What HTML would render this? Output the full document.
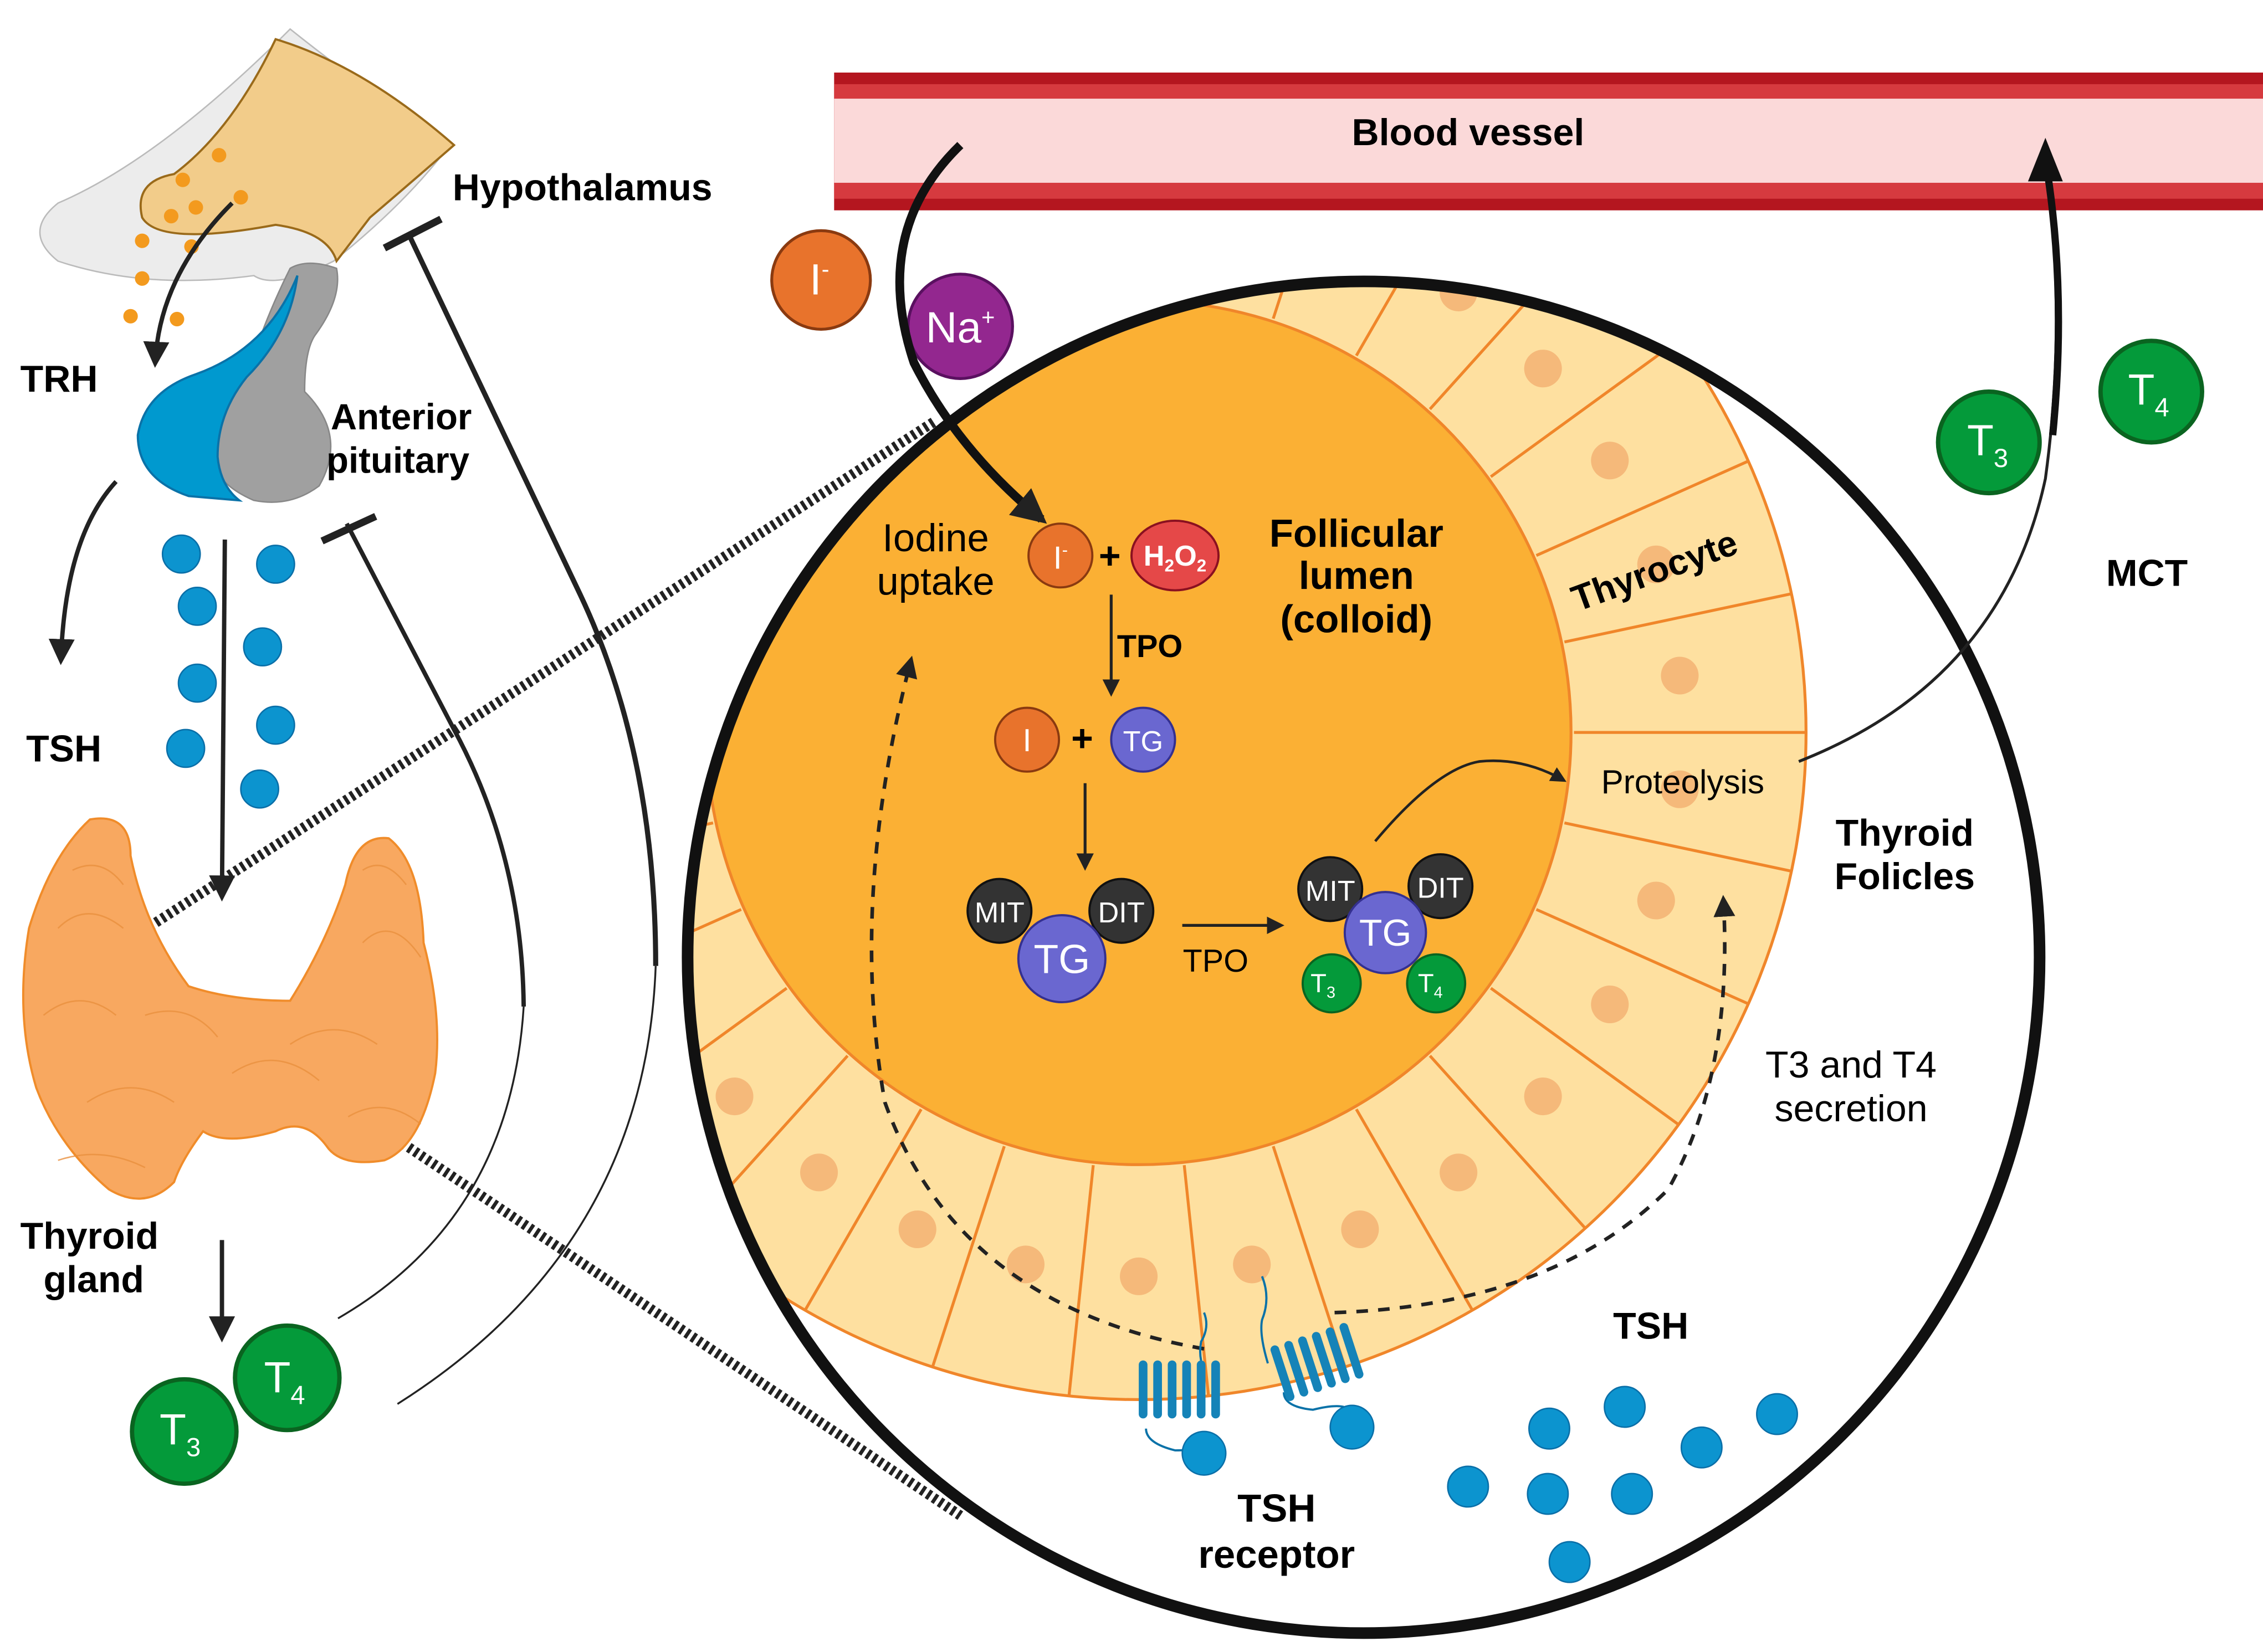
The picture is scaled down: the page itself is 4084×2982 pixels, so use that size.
<!DOCTYPE html>
<html><head><meta charset="utf-8"><style>
html,body{margin:0;padding:0;background:#fff;}
svg{display:block;}
text{font-family:"Liberation Sans",Arial,sans-serif;}
.b{font-weight:bold;}
</style></head><body>
<svg width="4084" height="2982" viewBox="0 0 1560 1139" xmlns="http://www.w3.org/2000/svg">
<defs>
<clipPath id="cc"><circle cx="940" cy="660" r="466"/></clipPath>
<marker id="ah" viewBox="0 0 10 10" refX="8" refY="5" markerWidth="6" markerHeight="6" orient="auto"><path d="M0,0 L10,5 L0,10 z" fill="#222"/></marker>
<marker id="ah2" viewBox="0 0 10 10" refX="8" refY="5" markerWidth="4" markerHeight="4" orient="auto"><path d="M0,0 L10,5 L0,10 z" fill="#222"/></marker>
</defs>

<!-- Blood vessel -->
<rect x="575" y="50" width="985" height="95" fill="#b4161f"/>
<rect x="575" y="58" width="985" height="79" fill="#d63a3f"/>
<rect x="575" y="68" width="985" height="58" fill="#fbd9d9"/>
<text x="1012" y="100" font-size="26" class="b" text-anchor="middle">Blood vessel</text>

<!-- Big circle contents -->
<circle cx="940" cy="660" r="466" fill="#fff"/>
<g clip-path="url(#cc)">
  <circle cx="785" cy="505" r="460" fill="#fee0a0" stroke="#f0862a" stroke-width="2"/>
  <g stroke="#f0862a" stroke-width="2" fill="#f5b97a">
    <g transform="rotate(0 785 505)"><line x1="1085" y1="505" x2="1245" y2="505"/></g>
    <g transform="rotate(12 785 505)"><line x1="1085" y1="505" x2="1245" y2="505"/></g>
    <g transform="rotate(24 785 505)"><line x1="1085" y1="505" x2="1245" y2="505"/></g>
    <g transform="rotate(36 785 505)"><line x1="1085" y1="505" x2="1245" y2="505"/></g>
    <g transform="rotate(48 785 505)"><line x1="1085" y1="505" x2="1245" y2="505"/></g>
    <g transform="rotate(60 785 505)"><line x1="1085" y1="505" x2="1245" y2="505"/></g>
    <g transform="rotate(72 785 505)"><line x1="1085" y1="505" x2="1245" y2="505"/></g>
    <g transform="rotate(84 785 505)"><line x1="1085" y1="505" x2="1245" y2="505"/></g>
    <g transform="rotate(96 785 505)"><line x1="1085" y1="505" x2="1245" y2="505"/></g>
    <g transform="rotate(108 785 505)"><line x1="1085" y1="505" x2="1245" y2="505"/></g>
    <g transform="rotate(120 785 505)"><line x1="1085" y1="505" x2="1245" y2="505"/></g>
    <g transform="rotate(132 785 505)"><line x1="1085" y1="505" x2="1245" y2="505"/></g>
    <g transform="rotate(144 785 505)"><line x1="1085" y1="505" x2="1245" y2="505"/></g>
    <g transform="rotate(156 785 505)"><line x1="1085" y1="505" x2="1245" y2="505"/></g>
    <g transform="rotate(168 785 505)"><line x1="1085" y1="505" x2="1245" y2="505"/></g>
    <g transform="rotate(180 785 505)"><line x1="1085" y1="505" x2="1245" y2="505"/></g>
    <g transform="rotate(-12 785 505)"><line x1="1085" y1="505" x2="1245" y2="505"/></g>
    <g transform="rotate(-24 785 505)"><line x1="1085" y1="505" x2="1245" y2="505"/></g>
    <g transform="rotate(-36 785 505)"><line x1="1085" y1="505" x2="1245" y2="505"/></g>
    <g transform="rotate(-48 785 505)"><line x1="1085" y1="505" x2="1245" y2="505"/></g>
    <g transform="rotate(-60 785 505)"><line x1="1085" y1="505" x2="1245" y2="505"/></g>
    <g transform="rotate(-72 785 505)"><line x1="1085" y1="505" x2="1245" y2="505"/></g>
    <g transform="rotate(-84 785 505)"><line x1="1085" y1="505" x2="1245" y2="505"/></g>
  </g>
  <g fill="#f5b97a">
    <g transform="rotate(6 785 505)"><circle cx="1160" cy="505" r="13"/></g>
    <g transform="rotate(18 785 505)"><circle cx="1160" cy="505" r="13"/></g>
    <g transform="rotate(30 785 505)"><circle cx="1160" cy="505" r="13"/></g>
    <g transform="rotate(42 785 505)"><circle cx="1160" cy="505" r="13"/></g>
    <g transform="rotate(54 785 505)"><circle cx="1160" cy="505" r="13"/></g>
    <g transform="rotate(66 785 505)"><circle cx="1160" cy="505" r="13"/></g>
    <g transform="rotate(78 785 505)"><circle cx="1160" cy="505" r="13"/></g>
    <g transform="rotate(90 785 505)"><circle cx="1160" cy="505" r="13"/></g>
    <g transform="rotate(102 785 505)"><circle cx="1160" cy="505" r="13"/></g>
    <g transform="rotate(114 785 505)"><circle cx="1160" cy="505" r="13"/></g>
    <g transform="rotate(126 785 505)"><circle cx="1160" cy="505" r="13"/></g>
    <g transform="rotate(138 785 505)"><circle cx="1160" cy="505" r="13"/></g>
    <g transform="rotate(150 785 505)"><circle cx="1160" cy="505" r="13"/></g>
    <g transform="rotate(162 785 505)"><circle cx="1160" cy="505" r="13"/></g>
    <g transform="rotate(174 785 505)"><circle cx="1160" cy="505" r="13"/></g>
    <g transform="rotate(-6 785 505)"><circle cx="1160" cy="505" r="13"/></g>
    <g transform="rotate(-18 785 505)"><circle cx="1160" cy="505" r="13"/></g>
    <g transform="rotate(-30 785 505)"><circle cx="1160" cy="505" r="13"/></g>
    <g transform="rotate(-42 785 505)"><circle cx="1160" cy="505" r="13"/></g>
    <g transform="rotate(-54 785 505)"><circle cx="1160" cy="505" r="13"/></g>
    <g transform="rotate(-66 785 505)"><circle cx="1160" cy="505" r="13"/></g>
    <g transform="rotate(-78 785 505)"><circle cx="1160" cy="505" r="13"/></g>
  </g>
  <circle cx="785" cy="505" r="298" fill="#fbb034" stroke="#f0862a" stroke-width="2"/>
</g>
<circle cx="940" cy="660" r="466" fill="none" stroke="#111" stroke-width="8"/>

<!-- inhibition curves -->
<path d="M282,162 L400,410 Q452,520 452,666" stroke="#222" stroke-width="3.5" fill="none"/>
<path d="M452,666 Q445,860 274,968" stroke="#222" stroke-width="1.3" fill="none"/>
<line x1="265" y1="171" x2="304" y2="151" stroke="#222" stroke-width="5"/>
<path d="M239,361 L313,503 Q360,590 361,694" stroke="#222" stroke-width="3" fill="none"/>
<path d="M361,694 Q352,840 233,909" stroke="#222" stroke-width="1.3" fill="none"/>
<line x1="222" y1="373" x2="259" y2="356" stroke="#222" stroke-width="5"/>

<!-- hatched connectors -->
<g stroke="#222" stroke-width="7" stroke-dasharray="2.5 2.5" fill="none">
  <line x1="78" y1="655" x2="645" y2="290"/>
  <line x1="78" y1="655" x2="662" y2="1045"/>
</g>

<!-- Left side: hypothalamus -->
<path d="M200,20 Q250,60 310,100 Q280,140 230,180 Q190,200 175,190 Q100,200 40,180 Q15,160 40,140 Q110,110 200,20 Z" fill="#ececec" stroke="#bbb" stroke-width="1"/>
<path d="M190,27 Q250,45 313,100 Q290,120 255,150 L232,180 Q226,160 190,155 Q110,170 98,150 Q92,125 120,120 Q160,90 190,27 Z" fill="#f2cc8a" stroke="#9a6a1a" stroke-width="1.5"/>
<g fill="#f39a1e">
<circle cx="126" cy="124" r="5"/><circle cx="151" cy="107" r="5"/><circle cx="166" cy="136" r="5"/><circle cx="135" cy="143" r="5"/><circle cx="118" cy="149" r="5"/><circle cx="98" cy="166" r="5"/><circle cx="132" cy="170" r="5"/><circle cx="98" cy="192" r="5"/><circle cx="90" cy="218" r="5"/><circle cx="122" cy="220" r="5"/>
</g>
<!-- pituitary -->
<path d="M200,185 Q212,178 232,185 Q236,205 218,230 Q210,240 210,270 Q240,300 220,335 Q200,350 175,345 Q140,330 145,300 Q160,270 175,245 Q185,215 200,185 Z" fill="#a0a0a0" stroke="#888" stroke-width="1"/>
<path d="M205,190 Q200,230 170,260 Q150,285 150,315 Q152,335 165,345 L130,342 Q95,330 95,300 Q100,270 135,258 Q185,240 205,190 Z" fill="#0099cf" stroke="#0a72a8" stroke-width="1.5"/>
<path d="M160,140 Q110,190 107,250" stroke="#222" stroke-width="3" fill="none" marker-end="url(#ah)"/>
<text x="14" y="270" font-size="26" class="b">TRH</text>
<text x="312" y="138" font-size="26" class="b">Hypothalamus</text>
<text x="228" y="296" font-size="25" class="b">Anterior</text>
<text x="225" y="326" font-size="25" class="b">pituitary</text>
<path d="M80,332 Q45,370 42,455" stroke="#222" stroke-width="3" fill="none" marker-end="url(#ah)"/>
<text x="18" y="525" font-size="26" class="b">TSH</text>
<g fill="#0c94cf" stroke="#0a6fa8" stroke-width="1">
<circle cx="125" cy="382" r="13"/><circle cx="190" cy="389" r="13"/><circle cx="136" cy="418" r="13"/><circle cx="181" cy="446" r="13"/><circle cx="136" cy="471" r="13"/><circle cx="190" cy="500" r="13"/><circle cx="128" cy="516" r="13"/><circle cx="179" cy="544" r="13"/>
</g>
<line x1="155" y1="372" x2="153" y2="618" stroke="#222" stroke-width="3" marker-end="url(#ah)"/>
<!-- thyroid gland -->
<path d="M62,565 Q90,560 90,590 Q100,640 130,680 Q160,690 200,690 Q225,650 238,610 Q245,575 268,578 Q290,595 292,650 Q305,700 300,740 Q290,790 265,800 Q235,805 225,790 Q210,770 190,780 Q155,790 140,780 Q125,800 120,815 Q100,835 75,820 Q40,790 25,750 Q10,700 20,640 Q35,590 62,565 Z" fill="#f8a860" stroke="#f08c2a" stroke-width="1.5"/>
<g stroke="#e8903e" stroke-width="1" fill="none" opacity="0.8">
<path d="M40,640 Q60,620 85,640 M30,700 Q55,680 80,700 M100,700 Q130,690 150,715 M60,760 Q90,740 120,760 M200,720 Q230,700 260,720 M250,650 Q270,630 290,660 M160,740 Q190,720 220,745 M240,770 Q265,755 290,775 M50,600 Q70,590 85,610 M250,600 Q265,590 280,610 M40,800 Q70,790 100,805"/>
</g>
<text x="14" y="861" font-size="26" class="b">Thyroid</text>
<text x="30" y="891" font-size="26" class="b">gland</text>
<line x1="153" y1="855" x2="153" y2="922" stroke="#222" stroke-width="3" marker-end="url(#ah)"/>
<g stroke="#0a6420" stroke-width="3" fill="#049a3a">
<circle cx="198" cy="950" r="36"/><circle cx="127" cy="987" r="36"/>
</g>
<text x="182" y="960" font-size="30" fill="#fff">T<tspan font-size="18" dy="8">4</tspan></text>
<text x="110" y="996" font-size="30" fill="#fff">T<tspan font-size="18" dy="8">3</tspan></text>

<!-- Ions -->
<circle cx="566" cy="193" r="34" fill="#e8732c" stroke="#8a3a10" stroke-width="2"/>
<text x="558" y="203" font-size="30" fill="#fff">I<tspan font-size="16" dy="-12">-</tspan></text>
<circle cx="662" cy="225" r="36" fill="#93278f" stroke="#5a1060" stroke-width="2"/>
<text x="662" y="236" font-size="30" fill="#fff" text-anchor="middle">Na<tspan font-size="16" dy="-12">+</tspan></text>
<path d="M662,100 Q600,160 630,250 Q660,310 718,358" stroke="#111" stroke-width="6" fill="none" marker-end="url(#ah2)"/>

<!-- inside lumen -->
<text x="645" y="380" font-size="27" text-anchor="middle">Iodine</text>
<text x="645" y="410" font-size="27" text-anchor="middle">uptake</text>
<circle cx="731" cy="383" r="22" fill="#e8732c" stroke="#8a3a10" stroke-width="1.5"/>
<text x="726" y="392" font-size="22" fill="#fff">I<tspan font-size="12" dy="-9">-</tspan></text>
<text x="765" y="392" font-size="26" class="b" text-anchor="middle">+</text>
<ellipse cx="810" cy="383" rx="30" ry="24" fill="#e54848" stroke="#8a1020" stroke-width="1.5"/>
<text x="810" y="390" font-size="20" class="b" fill="#fff" text-anchor="middle">H<tspan font-size="12" dy="4">2</tspan><tspan dy="-4">O</tspan><tspan font-size="12" dy="4">2</tspan></text>
<line x1="766" y1="410" x2="766" y2="478" stroke="#222" stroke-width="2" marker-end="url(#ah)"/>
<text x="770" y="453" font-size="22" class="b">TPO</text>
<text x="935" y="377" font-size="27" class="b" text-anchor="middle">Follicular</text>
<text x="935" y="406" font-size="27" class="b" text-anchor="middle">lumen</text>
<text x="935" y="436" font-size="27" class="b" text-anchor="middle">(colloid)</text>
<circle cx="708" cy="510" r="22" fill="#e8732c" stroke="#8a3a10" stroke-width="1.5"/>
<text x="708" y="518" font-size="22" fill="#fff" text-anchor="middle">I</text>
<text x="746" y="518" font-size="26" class="b" text-anchor="middle">+</text>
<circle cx="788" cy="510" r="22" fill="#6a67d0" stroke="#343090" stroke-width="1.5"/>
<text x="788" y="518" font-size="20" fill="#fff" text-anchor="middle">TG</text>
<line x1="748" y1="540" x2="748" y2="598" stroke="#222" stroke-width="2" marker-end="url(#ah)"/>
<g stroke="#111" stroke-width="1.5">
<circle cx="689" cy="628" r="22" fill="#333"/><circle cx="773" cy="628" r="22" fill="#333"/>
<circle cx="732" cy="661" r="30" fill="#6a67d0" stroke="#343090"/>
</g>
<text x="689" y="636" font-size="20" fill="#fff" text-anchor="middle">MIT</text>
<text x="773" y="636" font-size="20" fill="#fff" text-anchor="middle">DIT</text>
<text x="732" y="671" font-size="28" fill="#fff" text-anchor="middle">TG</text>
<line x1="815" y1="638" x2="883" y2="638" stroke="#222" stroke-width="2" marker-end="url(#ah)"/>
<text x="838" y="670" font-size="22" text-anchor="middle">TPO</text>
<g stroke="#111" stroke-width="1.5">
<circle cx="917" cy="613" r="22" fill="#333"/><circle cx="993" cy="611" r="22" fill="#333"/>
<circle cx="918" cy="678" r="20" fill="#049a3a" stroke="#0a6420"/><circle cx="990" cy="678" r="20" fill="#049a3a" stroke="#0a6420"/>
<circle cx="955" cy="643" r="28" fill="#6a67d0" stroke="#343090"/>
</g>
<text x="917" y="621" font-size="20" fill="#fff" text-anchor="middle">MIT</text>
<text x="993" y="619" font-size="20" fill="#fff" text-anchor="middle">DIT</text>
<text x="955" y="652" font-size="26" fill="#fff" text-anchor="middle">TG</text>
<text x="912" y="684" font-size="18" fill="#fff" text-anchor="middle">T<tspan font-size="11" dy="4">3</tspan></text>
<text x="986" y="684" font-size="18" fill="#fff" text-anchor="middle">T<tspan font-size="11" dy="4">4</tspan></text>
<path d="M948,580 Q990,530 1020,525 Q1050,522 1078,538" stroke="#222" stroke-width="1.8" fill="none" marker-end="url(#ah)"/>
<text x="1160" y="547" font-size="23" text-anchor="middle">Proteolysis</text>
<text x="1140" y="402" font-size="25" class="b" text-anchor="middle" transform="rotate(-20 1140 392)">Thyrocyte</text>

<!-- dashed arrows -->
<path d="M830,930 Q660,900 610,760 Q585,620 628,455" stroke="#222" stroke-width="2.5" stroke-dasharray="8 7" fill="none" marker-end="url(#ah)"/>
<path d="M920,905 Q1070,900 1150,820 Q1195,740 1188,620" stroke="#222" stroke-width="2.5" stroke-dasharray="8 7" fill="none" marker-end="url(#ah)"/>

<!-- receptors -->
<g stroke="#0a72a8" stroke-width="1.5" fill="none">
<path d="M830,905 q4,10 -2,20 q-2,10 2,20"/>
<path d="M870,880 q6,15 0,30 q-2,10 4,30"/>
<path d="M790,985 q0,10 20,15 q20,0 20,-5"/>
<path d="M885,960 q0,10 20,12 q20,-5 25,0"/>
</g>
<g fill="#1583b8">
<rect x="785" y="938" width="6" height="40" rx="3"/><rect x="795" y="938" width="6" height="40" rx="3"/><rect x="805" y="938" width="6" height="40" rx="3"/><rect x="815" y="938" width="6" height="40" rx="3"/><rect x="825" y="938" width="6" height="40" rx="3"/><rect x="835" y="938" width="6" height="40" rx="3"/>
<g transform="rotate(-18 905 940)">
<rect x="880" y="920" width="6" height="40" rx="3"/><rect x="890" y="920" width="6" height="40" rx="3"/><rect x="900" y="920" width="6" height="40" rx="3"/><rect x="910" y="920" width="6" height="40" rx="3"/><rect x="920" y="920" width="6" height="40" rx="3"/><rect x="930" y="920" width="6" height="40" rx="3"/>
</g>
</g>
<g fill="#0c94cf" stroke="#0a6fa8" stroke-width="1">
<circle cx="830" cy="1002" r="15"/><circle cx="932" cy="984" r="15"/>
<circle cx="1120" cy="970" r="14"/><circle cx="1068" cy="985" r="14"/><circle cx="1225" cy="975" r="14"/><circle cx="1173" cy="998" r="14"/><circle cx="1012" cy="1025" r="14"/><circle cx="1067" cy="1030" r="14"/><circle cx="1125" cy="1030" r="14"/><circle cx="1082" cy="1077" r="14"/>
</g>
<text x="1138" y="923" font-size="26" class="b" text-anchor="middle">TSH</text>
<text x="880" y="1049" font-size="27" class="b" text-anchor="middle">TSH</text>
<text x="880" y="1081" font-size="27" class="b" text-anchor="middle">receptor</text>
<text x="1313" y="583" font-size="26" class="b" text-anchor="middle">Thyroid</text>
<text x="1313" y="613" font-size="26" class="b" text-anchor="middle">Folicles</text>
<text x="1276" y="743" font-size="26" text-anchor="middle">T3 and T4</text>
<text x="1276" y="773" font-size="26" text-anchor="middle">secretion</text>

<!-- secretion line to vessel -->
<path d="M1240,525 Q1380,470 1410,330 Q1425,220 1410,110" stroke="#222" stroke-width="2" fill="none"/>
<path d="M1410,110 Q1425,200 1415,300" stroke="#111" stroke-width="5" fill="none"/>
<path d="M1398,125 L1410,95 L1422,125 Z" fill="#111"/>
<g stroke="#0a6420" stroke-width="3" fill="#049a3a">
<circle cx="1371" cy="305" r="35"/><circle cx="1483" cy="270" r="35"/>
</g>
<text x="1356" y="314" font-size="30" fill="#fff">T<tspan font-size="18" dy="8">3</tspan></text>
<text x="1467" y="279" font-size="30" fill="#fff">T<tspan font-size="18" dy="8">4</tspan></text>
<text x="1480" y="404" font-size="26" class="b" text-anchor="middle">MCT</text>
</svg>
</body></html>
